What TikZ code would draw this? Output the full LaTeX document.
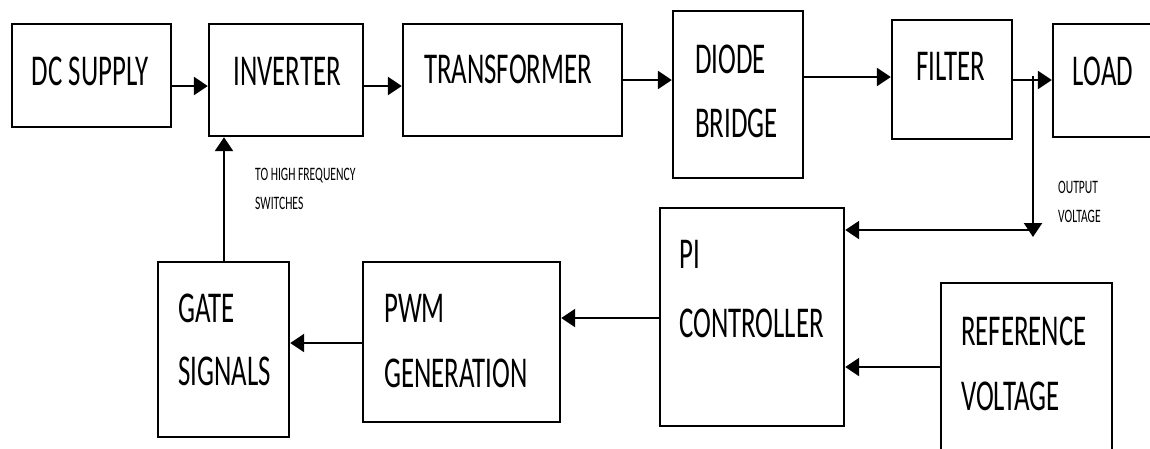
\documentclass[tikz,border=0pt]{standalone}
\usepackage{fontspec}
\newfontfamily\blkfont[FakeStretch=0.61]{Carlito}
\usetikzlibrary{arrows.meta}

\begin{document}
\begin{tikzpicture}[x=1pt,y=-1pt,
    blk/.style={draw,line width=2.4pt,inner sep=0pt},
    lbl/.style={inner sep=0pt,font=\blkfont\fontsize{44}{44}\selectfont},
    note/.style={inner sep=0pt,font=\blkfont\fontsize{19}{19}\selectfont},
    arr/.style={line width=2.4pt,-{Triangle[length=14pt,width=18pt]}}]
  \useasboundingbox (0,0) rectangle (1150,448);
  % upper row
  \node[blk,minimum width=159,minimum height=103] (dc) at (91.5,75.5) {};
  \node[blk,minimum width=154,minimum height=112] (inv) at (286,80) {};
  \node[blk,minimum width=219,minimum height=112] (trans) at (512.5,80) {};
  \node[blk,minimum width=130,minimum height=167] (diode) at (738,94.5) {};
  \node[blk,minimum width=120,minimum height=119] (filter) at (952,79.5) {};
  \node[blk,minimum width=112,minimum height=113] (load) at (1109,80.5) {};
  \node[lbl,anchor=base] (dcT) at (90,85) {DC SUPPLY};
  \node[lbl,anchor=base] (invT) at (287,85) {INVERTER};
  \node[lbl,anchor=base] (transT) at (508,83) {TRANSFORMER};
  \node[lbl,anchor=base west] (diodeT) at (695,73) {DIODE};
  \node[lbl,anchor=base west] (bridgeT) at (695,137) {BRIDGE};
  \node[lbl,anchor=base] (filterT) at (951,80) {FILTER};
  \node[lbl,anchor=base] (loadT) at (1103,85) {LOAD};
  % lower row
  \node[blk,minimum width=131,minimum height=175] (gate) at (223.5,349.5) {};
  \node[blk,minimum width=197,minimum height=160] (pwm) at (461.5,342) {};
  \node[blk,minimum width=184,minimum height=218] (pi) at (752,317) {};
  \node[blk,minimum width=171,minimum height=190] (ref) at (1026.5,378) {};
  \node[lbl,anchor=base west] (gateT) at (178,322) {GATE};
  \node[lbl,anchor=base west] (signT) at (178,385) {SIGNALS};
  \node[lbl,anchor=base west] (pwmT) at (384,322) {PWM};
  \node[lbl,anchor=base west] (genT) at (384,387) {GENERATION};
  \node[lbl,anchor=base west] (piT) at (679,268) {PI};
  \node[lbl,anchor=base west] (ctrlT) at (679,337) {CONTROLLER};
  \node[lbl,anchor=base west] (refT) at (961,345) {REFERENCE};
  \node[lbl,anchor=base west] (voltT) at (961,410) {VOLTAGE};
  \node[note,anchor=base west] (hfT) at (255,180) {TO HIGH FREQUENCY};
  \node[note,anchor=base west] (swT) at (255,209) {SWITCHES};
  \node[note,anchor=base west] (outT) at (1058,193) {OUTPUT};
  \node[note,anchor=base west] (ovT) at (1058,222) {VOLTAGE};
  % connectors
  \draw[arr] (dc.east |- 0,86) -- (inv.west |- 0,86);
  \draw[arr] (inv.east |- 0,86) -- (trans.west |- 0,86);
  \draw[arr] (trans.east) -- (trans.east -| diode.west);
  \draw[arr] (diode.east |- 0,77) -- (filter.west |- 0,77);
  \draw[arr] (filter.east |- 0,80) -- (load.west |- 0,80);
  \coordinate (tap) at (1033,76);
  \coordinate (fb) at (1033,230);
  \draw[arr] (tap) -- ([yshift=-7pt]fb);
  \draw[arr] (fb) -- (pi.east |- fb);
  \draw[arr] (ref.west |- 0,367) -- (pi.east |- 0,367);
  \draw[arr] (pi.west |- 0,318) -- (pwm.east |- 0,318);
  \draw[arr] (pwm.west |- 0,343) -- (gate.east |- 0,343);
  \draw[arr] (gate.north -| 224,0) -- (inv.south -| 224,0);
\end{tikzpicture}
\end{document}
